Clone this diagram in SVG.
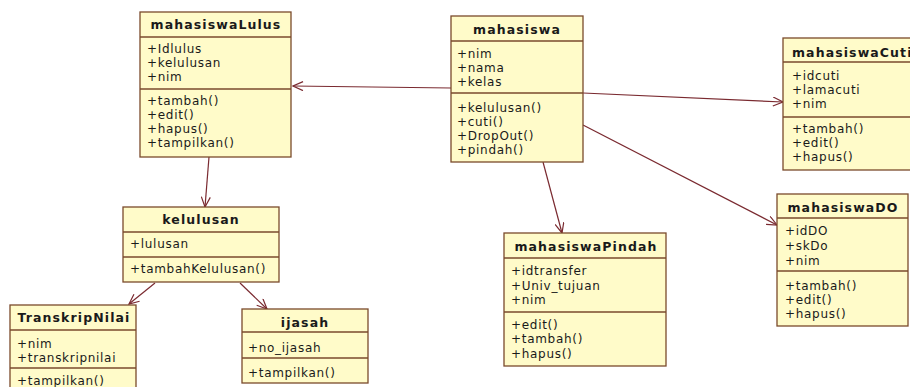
<svg xmlns="http://www.w3.org/2000/svg" width="910" height="387" viewBox="0 0 910 387">
<style>
.box{fill:#FFFBC9;stroke:#7A4A2C;stroke-width:1.3}
.div{stroke:#7A4A2C;stroke-width:1.3}
.t{font-family:"DejaVu Sans",Verdana,sans-serif;font-size:12px;letter-spacing:0.7px;fill:#1a1a1a}
.h{font-family:"DejaVu Sans",Verdana,sans-serif;font-size:12.5px;font-weight:bold;letter-spacing:1.1px;fill:#1a1a1a;text-anchor:middle}
.c{stroke:#7A2A30;stroke-width:1.2;fill:none}
</style>
<defs>
<marker id="arr" markerUnits="userSpaceOnUse" markerWidth="12" markerHeight="10" refX="11" refY="5" orient="auto">
<path d="M1,0.5 L11,5 L1,9.5" fill="none" stroke="#7A2A30" stroke-width="1.2"/>
</marker>
</defs>
<rect width="910" height="387" fill="#ffffff"/>
<g id="connectors">
<line class="c" x1="451" y1="88" x2="293" y2="86" marker-end="url(#arr)"/>
<line class="c" x1="583" y1="93" x2="783" y2="102" marker-end="url(#arr)"/>
<line class="c" x1="583" y1="125" x2="777" y2="225" marker-end="url(#arr)"/>
<line class="c" x1="543" y1="162" x2="562" y2="233" marker-end="url(#arr)"/>
<line class="c" x1="209" y1="157" x2="205" y2="207" marker-end="url(#arr)"/>
<line class="c" x1="155" y1="283" x2="129" y2="304" marker-end="url(#arr)"/>
<line class="c" x1="240" y1="283" x2="267" y2="309" marker-end="url(#arr)"/>
</g>
<g id="mahasiswaLulus">
<rect class="box" x="140" y="12" width="151" height="145"/>
<line class="div" x1="140" y1="37" x2="291" y2="37"/>
<line class="div" x1="140" y1="89" x2="291" y2="89"/>
<text class="h" x="216" y="29">mahasiswaLulus</text>
<text class="t" x="147" y="53">+Idlulus</text>
<text class="t" x="147" y="67">+kelulusan</text>
<text class="t" x="147" y="81">+nim</text>
<text class="t" x="147" y="105">+tambah()</text>
<text class="t" x="147" y="119">+edit()</text>
<text class="t" x="147" y="133">+hapus()</text>
<text class="t" x="147" y="147">+tampilkan()</text>
</g>
<g id="mahasiswa">
<rect class="box" x="451" y="16" width="132" height="146"/>
<line class="div" x1="451" y1="41" x2="583" y2="41"/>
<line class="div" x1="451" y1="93" x2="583" y2="93"/>
<text class="h" x="517" y="34">mahasiswa</text>
<text class="t" x="457" y="58">+nim</text>
<text class="t" x="457" y="72">+nama</text>
<text class="t" x="457" y="86">+kelas</text>
<text class="t" x="457" y="112">+kelulusan()</text>
<text class="t" x="457" y="126">+cuti()</text>
<text class="t" x="457" y="140">+DropOut()</text>
<text class="t" x="457" y="154">+pindah()</text>
</g>
<g id="mahasiswaCuti">
<rect class="box" x="783" y="38" width="140" height="132"/>
<line class="div" x1="783" y1="62" x2="923" y2="62"/>
<line class="div" x1="783" y1="117" x2="923" y2="117"/>
<text class="h" x="792" y="57" style="text-anchor:start">mahasiswaCuti</text>
<text class="t" x="792" y="80">+idcuti</text>
<text class="t" x="792" y="94">+lamacuti</text>
<text class="t" x="792" y="108">+nim</text>
<text class="t" x="792" y="133">+tambah()</text>
<text class="t" x="792" y="147">+edit()</text>
<text class="t" x="792" y="161">+hapus()</text>
</g>
<g id="mahasiswaDO">
<rect class="box" x="777" y="194" width="131" height="132"/>
<line class="div" x1="777" y1="218" x2="908" y2="218"/>
<line class="div" x1="777" y1="271" x2="908" y2="271"/>
<text class="h" x="843" y="212">mahasiswaDO</text>
<text class="t" x="785" y="235">+idDO</text>
<text class="t" x="785" y="250">+skDo</text>
<text class="t" x="785" y="265">+nim</text>
<text class="t" x="785" y="290">+tambah()</text>
<text class="t" x="785" y="304">+edit()</text>
<text class="t" x="785" y="318">+hapus()</text>
</g>
<g id="mahasiswaPindah">
<rect class="box" x="504" y="233" width="162" height="133"/>
<line class="div" x1="504" y1="258" x2="666" y2="258"/>
<line class="div" x1="504" y1="312" x2="666" y2="312"/>
<text class="h" x="586" y="251">mahasiswaPindah</text>
<text class="t" x="511" y="275">+idtransfer</text>
<text class="t" x="511" y="290">+Univ_tujuan</text>
<text class="t" x="511" y="304">+nim</text>
<text class="t" x="511" y="329">+edit()</text>
<text class="t" x="511" y="343">+tambah()</text>
<text class="t" x="511" y="358">+hapus()</text>
</g>
<g id="kelulusan">
<rect class="box" x="123" y="207" width="156" height="75"/>
<line class="div" x1="123" y1="232" x2="279" y2="232"/>
<line class="div" x1="123" y1="257" x2="279" y2="257"/>
<text class="h" x="201" y="224">kelulusan</text>
<text class="t" x="130" y="248">+lulusan</text>
<text class="t" x="130" y="273">+tambahKelulusan()</text>
</g>
<g id="TranskripNilai">
<rect class="box" x="10" y="305" width="126" height="95"/>
<line class="div" x1="10" y1="330" x2="136" y2="330"/>
<line class="div" x1="10" y1="368" x2="136" y2="368"/>
<text class="h" x="74" y="322">TranskripNilai</text>
<text class="t" x="17" y="348">+nim</text>
<text class="t" x="17" y="362">+transkripnilai</text>
<text class="t" x="17" y="385">+tampilkan()</text>
</g>
<g id="ijasah">
<rect class="box" x="242" y="309" width="126" height="74"/>
<line class="div" x1="242" y1="332" x2="368" y2="332"/>
<line class="div" x1="242" y1="358" x2="368" y2="358"/>
<text class="h" x="305" y="327">ijasah</text>
<text class="t" x="248" y="352">+no_ijasah</text>
<text class="t" x="248" y="377">+tampilkan()</text>
</g>
</svg>
